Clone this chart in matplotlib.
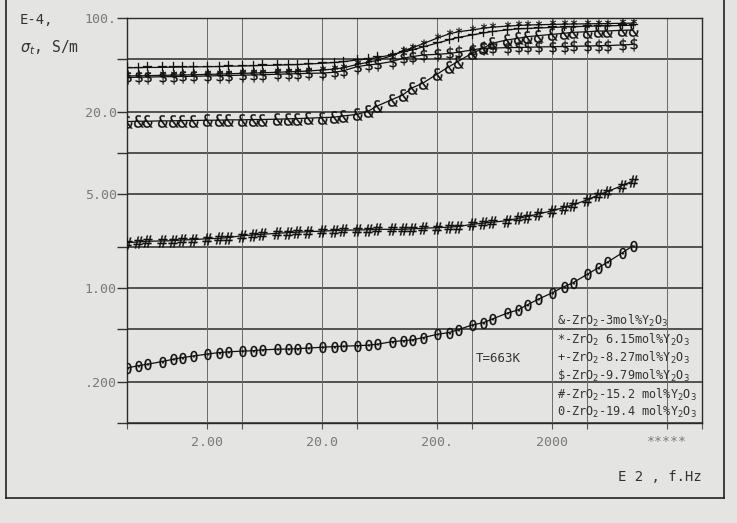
import numpy as np
import matplotlib.pyplot as plt
from matplotlib.lines import Line2D
from matplotlib.path import Path
from matplotlib.textpath import TextPath
from matplotlib.font_manager import FontProperties

plt.rcParams['mathtext.fontset'] = 'dejavusans'
plt.rcParams['font.family'] = ['DejaVu Sans Mono', 'DejaVu Sans']

# frequency, in units of 1E2 Hz
freq = [0.4, 0.5, 0.6, 0.8,
        1, 1.2, 1.5, 2, 2.5, 3, 4, 5, 6, 8,
        10, 12, 15, 20, 25, 30, 40, 50, 60, 80,
        100, 120, 150, 200, 250, 300, 400, 500, 600, 800,
        1000, 1200, 1500, 2000, 2500, 3000, 4000, 5000, 6000, 8000,
        10000]

# conductivity, in units of 1E-4 S/m
s_3 = [17.1, 17.2, 17.2, 17.3,
       17.3, 17.4, 17.4, 17.5, 17.5, 17.6, 17.6, 17.7, 17.7, 17.8,
       17.9, 18.0, 18.1, 18.3, 18.4, 18.8, 19.3, 20.4, 22.3, 24.8,
       26.9, 30.3, 33.0, 38.5, 43.4, 47.5, 54.8, 59.7, 65.0, 68.7,
       70.7, 72.7, 74.0, 75.7, 77.0, 78.3, 79.1, 80.1, 80.1, 81.1,
       81.5]
s_615 = [37.2, 37.3, 37.4, 37.6,
         37.7, 37.8, 38.0, 38.2, 38.4, 38.6, 38.9, 39.1, 39.3, 39.6,
         39.9, 40.1, 40.5, 41.2, 41.8, 42.6, 45.3, 47.0, 48.6, 52.5,
         57.0, 60.0, 64.5, 71.0, 76.0, 79.0, 81.5, 84.0, 85.5, 87.0,
         88.0, 88.6, 89.2, 89.6, 90.0, 90.3, 90.5, 90.8, 91.0, 91.3,
         91.6]
s_827 = [42.8, 42.9, 43.0, 43.1,
         43.2, 43.3, 43.4, 43.6, 43.7, 43.9, 44.1, 44.3, 44.5, 44.7,
         45.0, 45.2, 45.6, 46.2, 46.8, 47.4, 48.9, 49.7, 51.0, 53.2,
         56.0, 58.0, 61.0, 65.3, 68.7, 71.7, 74.8, 77.4, 79.4, 81.5,
         83.0, 83.6, 84.3, 85.1, 85.8, 86.2, 86.8, 87.3, 87.5, 88.0,
         88.3]
s_979 = [36.3, 36.4, 36.5, 36.7,
         36.8, 36.9, 37.0, 37.2, 37.4, 37.5, 37.7, 37.9, 38.0, 38.3,
         38.5, 38.7, 38.9, 39.1, 39.6, 40.5, 43.6, 44.9, 45.6, 47.5,
         50.3, 51.7, 53.2, 53.8, 54.6, 55.7, 58.0, 59.7, 59.9, 60.3,
         60.5, 60.7, 61.0, 61.3, 61.5, 61.7, 62.0, 62.3, 62.5, 63.1,
         63.8]
s_152 = [2.17, 2.19, 2.22, 2.23,
         2.24, 2.27, 2.28, 2.32, 2.33, 2.36, 2.44, 2.47, 2.50, 2.54,
         2.57, 2.59, 2.61, 2.64, 2.66, 2.68, 2.69, 2.70, 2.72, 2.72,
         2.72, 2.74, 2.77, 2.80, 2.82, 2.85, 2.96, 3.02, 3.07, 3.15,
         3.28, 3.38, 3.53, 3.74, 3.94, 4.12, 4.49, 4.89, 5.17, 5.72,
         6.20]
s_194 = [0.255, 0.266, 0.272, 0.285,
         0.296, 0.305, 0.313, 0.324, 0.332, 0.336, 0.341, 0.343, 0.348, 0.352,
         0.353, 0.355, 0.359, 0.364, 0.368, 0.370, 0.374, 0.377, 0.383, 0.400,
         0.407, 0.412, 0.429, 0.454, 0.467, 0.489, 0.532, 0.553, 0.589, 0.649,
         0.687, 0.748, 0.824, 0.923, 1.02, 1.09, 1.26, 1.41, 1.55, 1.81,
         2.05]

series = [(s_3, '&', 9), (s_615, '*', 7), (s_827, '+', 7),
          (s_979, '$', 10), (s_152, '#', 8.5), (s_194, '0', 8)]

legend_lines = [r'&-ZrO$_2$-3mol%Y$_2$O$_3$',
                r'*-ZrO$_2$ 6.15mol%Y$_2$O$_3$',
                r'+-ZrO$_2$-8.27mol%Y$_2$O$_3$',
                r'\$-ZrO$_2$-9.79mol%Y$_2$O$_3$',
                r'#-ZrO$_2$-15.2 mol%Y$_2$O$_3$',
                r'0-ZrO$_2$-19.4 mol%Y$_2$O$_3$']

xticks = [0.4, 2, 4, 20, 40, 200, 400, 2000, 4000, 20000, 40000]
xlabels = ['', '2.00', '', '20.0', '', '200.', '', '2000', '', '*****', '']
yticks = [0.1, 0.2, 0.5, 1, 2, 5, 10, 20, 50, 100]
ylabels = ['', '.200', '', '1.00', '', '5.00', '', '20.0', '', '100.']


def glyph_marker(ch):
    # plotter-style character used as a marker, centred on the point
    tp = TextPath((0, 0), ch, size=10,
                  prop=FontProperties(family='DejaVu Sans Mono'),
                  usetex=False)
    v = tp.vertices
    c = (v.min(axis=0) + v.max(axis=0)) / 2
    return Path(v - c, tp.codes)


bg = '#e4e4e2'
fig = plt.figure(figsize=(7.37, 5.23), dpi=100, facecolor=bg)
ax = fig.add_axes([127 / 737, 1 - 423 / 523, 575 / 737, 405 / 523])
ax.set_facecolor(bg)
ax.set_xscale('log')
ax.set_yscale('log')
ax.set_xlim(0.4, 40000)
ax.set_ylim(0.1, 100)

for yv in yticks:
    ax.axhline(yv, color='#2a2a2a', lw=1.1, zorder=1)
for xv in xticks:
    ax.axvline(xv, color='#6a6a6a', lw=0.7, zorder=1)

ax.set_xticks(xticks)
ax.set_xticklabels(xlabels)
ax.set_yticks(yticks)
ax.set_yticklabels(ylabels)
ax.minorticks_off()
ax.tick_params(axis='x', direction='out', length=4, width=0.8, color='#555',
               pad=5, labelsize=9.5, labelcolor='#7a7a7a')
ax.tick_params(axis='y', direction='out', length=7, width=1.0, color='#333',
               pad=0.5, labelsize=9.5, labelcolor='#7a7a7a')
for sp in ax.spines.values():
    sp.set_color('#2a2a2a')
    sp.set_linewidth(1.0)

for vals, ch, ms in series:
    ax.plot(freq, vals, color='#111', lw=0.9, marker=glyph_marker(ch), ms=ms,
            mfc='#111', mec='#111', mew=0.2, zorder=3)

ax.text(0.645, 0.16, 'T=663K', transform=ax.transAxes, fontsize=9,
        color='#333', ha='center', va='center')

ly = [0.253, 0.206, 0.161, 0.117, 0.070, 0.027]
for txt, yy in zip(legend_lines, ly):
    ax.text(0.748, yy, txt, transform=ax.transAxes, fontsize=8.6,
            color='#333', ha='left', va='center')

fig.text(20 / 737, 1 - 20 / 523, 'E-4,', fontsize=10, color='#333',
         ha='left', va='center')
fig.text(20 / 737, 1 - 48 / 523, r'$\sigma_t$, S/m', fontsize=10.5,
         color='#333', ha='left', va='center')
fig.text(702 / 737, 1 - 477 / 523, 'E 2 , f.Hz', fontsize=10, color='#333',
         ha='right', va='center')

# outer frame of the page
frame = dict(color='#222', lw=1.2)
fig.add_artist(Line2D([6 / 737, 6 / 737], [1.01, 1 - 498 / 523], **frame))
fig.add_artist(Line2D([6 / 737, 724 / 737], [1 - 498 / 523, 1 - 498 / 523], **frame))
fig.add_artist(Line2D([724 / 737, 724 / 737], [1 - 498 / 523, 1.01], **frame))

fig.savefig('out.png', dpi=100, facecolor=bg)
